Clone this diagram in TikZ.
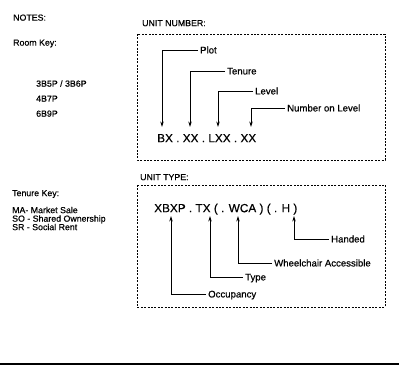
\documentclass[tikz,border=0pt]{standalone}
\usepackage{fontspec}
\setmainfont{Liberation Sans}[FakeBold=0.5]
\usetikzlibrary{arrows.meta}
\begin{document}
\begin{tikzpicture}[x=1pt,y=-1pt,
 note/.style={anchor=west,inner sep=0pt,text height=6.3pt,text depth=0pt,font=\fontsize{8.8}{10}\selectfont},
 boxcap/.style={anchor=west,inner sep=0pt,text height=6.3pt,text depth=0pt,font=\fontsize{8.8}{10}\selectfont},
 lbl/.style={anchor=west,inner xsep=2pt,inner ysep=0pt,text height=6.9pt,text depth=0pt,font=\fontsize{9.6}{10}\selectfont},
 code/.style={anchor=west,inner sep=0pt,text height=8.4pt,text depth=0pt,font=\fontsize{11.8}{14}\selectfont},
 dbox/.style={draw,dash pattern=on 2pt off 1.4pt,line width=0.7pt},
 lead/.style={line width=0.8pt,-{Stealth[length=5.5pt,width=3.4pt]}}]
\useasboundingbox (0,0) rectangle (399,372);
% left notes
\node[note] (notes) at (13,17.5) {NOTES:};
\node[note] (roomkey) at (13,42.5) {Room Key:};
\node[note] (r1) at (36,83.5) {3B5P / 3B6P};
\node[note] (r2) at (36,98.5) {4B7P};
\node[note] (r3) at (36,113.5) {6B9P};
\node[note] (tenkey) at (12,193) {Tenure Key:};
\node[note] (ma) at (12,210) {MA- Market Sale};
\node[note] (so) at (12,218.5) {SO - Shared Ownership};
\node[note] (sr) at (12,227) {SR - Social Rent};
% unit number box
\node[boxcap] (unitnum) at (142,23) {UNIT NUMBER:};
\draw[dbox] (137,34) rectangle (385,160);
\node[code] (bx) at (157,138) {BX . XX . LXX . XX};
\coordinate (t1) at (162,127);
\coordinate (t2) at (190,127);
\coordinate (t3) at (218,127);
\coordinate (t4) at (251,127);
\node[lbl] (plot) at (198,50) {Plot};
\node[lbl] (tenure) at (225,71) {Tenure};
\node[lbl] (level) at (253,91) {Level};
\node[lbl] (numlev) at (285,108) {Number on Level};
\draw[lead] (plot.west) -| (t1);
\draw[lead] (tenure.west) -| (t2);
\draw[lead] (level.west) -| (t3);
\draw[lead] (numlev.west) -| (t4);
% unit type box
\node[boxcap] (unittype) at (140,177) {UNIT TYPE:};
\draw[dbox] (137,185) rectangle (385,307);
\node[code] (xbxp) at (154,208) {XBXP . TX ( . WCA ) ( . H )};
\coordinate (u1) at (171,216);
\coordinate (u2) at (210,216);
\coordinate (u3) at (238,216);
\coordinate (u4) at (294,216);
\node[lbl] (occ) at (206,294) {Occupancy};
\node[lbl] (type) at (243,277) {Type};
\node[lbl] (wca) at (272,263) {Wheelchair Accessible};
\node[lbl] (hand) at (329,239) {Handed};
\draw[lead] (occ.west) -| (u1);
\draw[lead] (type.west) -| (u2);
\draw[lead] (wca.west) -| (u3);
\draw[lead] (hand.west) -| (u4);
% bottom rule
\draw[line width=1.2pt] (0,364) -- (399,364);
\end{tikzpicture}
\end{document}
